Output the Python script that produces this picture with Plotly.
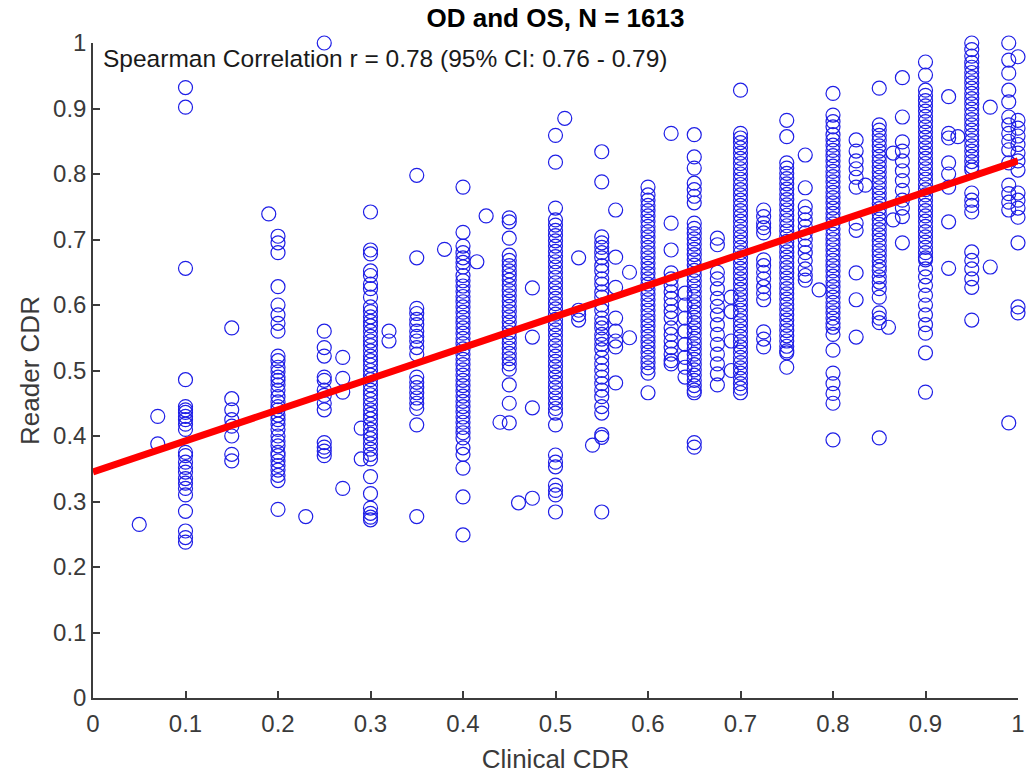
import plotly.graph_objects as go

# ---------------- data ----------------
reader_x005 = [0.265]
reader_x007 = [0.43, 0.388]
reader_x010 = [0.932, 0.902, 0.656, 0.486, 0.445, 0.44, 0.436, 0.43, 0.425, 0.418, 0.41,
               0.375, 0.37, 0.36, 0.352, 0.345, 0.335, 0.328, 0.32, 0.31, 0.285, 0.255, 0.245, 0.238]
reader_x015 = [0.565, 0.457, 0.44, 0.425, 0.415, 0.40, 0.372, 0.362]
reader_x019 = [0.739]
reader_x020 = [0.705, 0.695, 0.68, 0.628, 0.60, 0.585, 0.572, 0.56, 0.522, 0.515, 0.505, 0.498,
               0.49, 0.485, 0.478, 0.47, 0.46, 0.452, 0.445, 0.44, 0.432, 0.425, 0.418, 0.41,
               0.40, 0.392, 0.385, 0.375, 0.37, 0.362, 0.355, 0.348, 0.34, 0.332, 0.288]
reader_x023 = [0.277]
reader_x025 = [1.0, 0.56, 0.535, 0.522, 0.49, 0.485, 0.47, 0.462, 0.45, 0.44, 0.39, 0.383, 0.377, 0.37]
reader_x027 = [0.52, 0.488, 0.467, 0.32]
reader_x029 = [0.412, 0.365]
reader_x030 = [0.742, 0.684, 0.678, 0.652, 0.645, 0.632, 0.625, 0.612, 0.597, 0.59, 0.582, 0.575,
               0.568, 0.56, 0.552, 0.545, 0.538, 0.53, 0.522, 0.515, 0.508, 0.5, 0.493, 0.486,
               0.478, 0.47, 0.463, 0.456, 0.448, 0.44, 0.433, 0.426, 0.418, 0.41, 0.403, 0.396,
               0.388, 0.38, 0.372, 0.365, 0.338, 0.312, 0.29, 0.282, 0.276, 0.272]
reader_x032 = [0.56, 0.545]
reader_x035 = [0.798, 0.672, 0.595, 0.587, 0.578, 0.57, 0.56, 0.552, 0.545, 0.535, 0.525, 0.49,
               0.482, 0.474, 0.466, 0.458, 0.45, 0.442, 0.417, 0.277]
reader_x038 = [0.685]
reader_x040 = [0.78, 0.711, 0.69, 0.68, 0.672, 0.665, 0.658, 0.645, 0.637, 0.629, 0.621, 0.613,
               0.605, 0.597, 0.589, 0.581, 0.573, 0.565, 0.557, 0.549, 0.541, 0.533, 0.525, 0.517,
               0.509, 0.501, 0.493, 0.485, 0.477, 0.469, 0.461, 0.453, 0.445, 0.437, 0.429, 0.421,
               0.413, 0.405, 0.397, 0.382, 0.372, 0.351, 0.307, 0.249]
reader_x0415 = [0.666]
reader_x0425 = [0.736]
reader_x044 = [0.421]
reader_x045 = [0.733, 0.727, 0.702, 0.676, 0.668, 0.66, 0.652, 0.645, 0.638, 0.63, 0.622, 0.614,
               0.606, 0.598, 0.59, 0.582, 0.574, 0.566, 0.558, 0.55, 0.542, 0.534, 0.526, 0.518,
               0.51, 0.502, 0.478, 0.45, 0.42]
reader_x046 = [0.298]
reader_x0475 = [0.626, 0.551, 0.443, 0.305]
reader_x050 = [0.859, 0.818, 0.748, 0.73, 0.722, 0.714, 0.706, 0.698, 0.69, 0.682, 0.674, 0.666,
               0.658, 0.65, 0.642, 0.634, 0.626, 0.618, 0.61, 0.602, 0.594, 0.586, 0.578, 0.57,
               0.562, 0.554, 0.546, 0.538, 0.53, 0.522, 0.514, 0.506, 0.498, 0.49, 0.482, 0.474,
               0.466, 0.458, 0.45, 0.442, 0.435, 0.417, 0.371, 0.36, 0.353, 0.325, 0.317, 0.31, 0.284]
reader_x051 = [0.885]
reader_x0525 = [0.672, 0.592, 0.585, 0.577]
reader_x054 = [0.386]
reader_x055 = [0.834, 0.788, 0.704, 0.695, 0.688, 0.68, 0.672, 0.66, 0.652, 0.64, 0.632, 0.62,
               0.612, 0.6, 0.592, 0.58, 0.572, 0.565, 0.555, 0.548, 0.54, 0.532, 0.52, 0.51,
               0.5, 0.49, 0.48, 0.47, 0.46, 0.445, 0.435, 0.402, 0.398, 0.284]
reader_x0565 = [0.745, 0.673, 0.627, 0.58, 0.56, 0.545, 0.536, 0.481]
reader_x058 = [0.65, 0.55]
reader_x060 = [0.78, 0.768, 0.76, 0.752, 0.744, 0.736, 0.728, 0.72, 0.712, 0.704, 0.696, 0.688,
               0.68, 0.672, 0.664, 0.656, 0.648, 0.64, 0.632, 0.624, 0.616, 0.608, 0.6, 0.592,
               0.584, 0.576, 0.568, 0.56, 0.552, 0.544, 0.536, 0.528, 0.52, 0.512, 0.504, 0.496, 0.466]
reader_x0625 = [0.862, 0.725, 0.684, 0.649, 0.64, 0.63, 0.62, 0.61, 0.6, 0.59, 0.58, 0.565,
                0.555, 0.545, 0.535, 0.525, 0.515, 0.51]
reader_x064 = [0.618, 0.6, 0.58, 0.56, 0.54, 0.52, 0.505, 0.49]
reader_x065 = [0.86, 0.826, 0.809, 0.786, 0.776, 0.766, 0.756, 0.725, 0.717, 0.709, 0.701, 0.693,
               0.685, 0.677, 0.669, 0.661, 0.653, 0.645, 0.637, 0.629, 0.621, 0.613, 0.605, 0.597,
               0.589, 0.581, 0.573, 0.565, 0.557, 0.549, 0.541, 0.533, 0.525, 0.517, 0.509, 0.501,
               0.493, 0.485, 0.477, 0.47, 0.466, 0.39, 0.383]
reader_x0675 = [0.702, 0.692, 0.65, 0.64, 0.625, 0.61, 0.598, 0.585, 0.57, 0.555, 0.54, 0.525,
                0.51, 0.495, 0.478]
reader_x069 = [0.612, 0.59, 0.545, 0.5]
reader_x070 = [0.928, 0.862, 0.855, 0.848, 0.84, 0.832, 0.824, 0.816, 0.808, 0.8, 0.792, 0.784,
               0.776, 0.768, 0.76, 0.752, 0.744, 0.736, 0.728, 0.72, 0.712, 0.704, 0.696, 0.688,
               0.68, 0.672, 0.664, 0.656, 0.648, 0.64, 0.632, 0.624, 0.616, 0.608, 0.6, 0.592,
               0.584, 0.576, 0.568, 0.56, 0.552, 0.544, 0.536, 0.528, 0.52, 0.512, 0.504, 0.496,
               0.488, 0.48, 0.473, 0.466]
reader_x0725 = [0.745, 0.735, 0.725, 0.718, 0.71, 0.669, 0.66, 0.65, 0.64, 0.628, 0.618, 0.608,
                0.559, 0.548, 0.536]
reader_x075 = [0.882, 0.857, 0.817, 0.809, 0.801, 0.793, 0.785, 0.777, 0.769, 0.761, 0.753, 0.745,
               0.737, 0.729, 0.721, 0.713, 0.705, 0.697, 0.689, 0.681, 0.673, 0.665, 0.657, 0.649,
               0.641, 0.633, 0.625, 0.617, 0.609, 0.601, 0.593, 0.585, 0.577, 0.569, 0.561, 0.553,
               0.545, 0.537, 0.53, 0.527, 0.505]
reader_x077 = [0.829, 0.779, 0.75, 0.74, 0.73, 0.72, 0.71, 0.7, 0.69, 0.68, 0.668, 0.655, 0.645, 0.638]
reader_x0785 = [0.623]
reader_x080 = [0.923, 0.89, 0.88, 0.872, 0.86, 0.852, 0.844, 0.836, 0.828, 0.82, 0.812, 0.804,
               0.796, 0.788, 0.78, 0.772, 0.764, 0.756, 0.748, 0.74, 0.732, 0.724, 0.716, 0.708,
               0.7, 0.692, 0.684, 0.676, 0.668, 0.66, 0.652, 0.644, 0.636, 0.628, 0.62, 0.612,
               0.604, 0.596, 0.588, 0.58, 0.572, 0.566, 0.555, 0.531, 0.496, 0.48, 0.465, 0.45, 0.394]
reader_x0825 = [0.852, 0.835, 0.82, 0.808, 0.795, 0.78, 0.725, 0.714, 0.649, 0.608, 0.551]
reader_x0835 = [0.783]
reader_x085 = [0.931, 0.875, 0.867, 0.859, 0.851, 0.843, 0.835, 0.827, 0.819, 0.811, 0.803, 0.795,
               0.787, 0.779, 0.771, 0.763, 0.755, 0.747, 0.739, 0.731, 0.723, 0.715, 0.707, 0.699,
               0.691, 0.683, 0.675, 0.667, 0.659, 0.653, 0.643, 0.635, 0.625, 0.612, 0.588, 0.58,
               0.573, 0.397]
reader_x086 = [0.566]
reader_x0865 = [0.832, 0.73]
reader_x0875 = [0.947, 0.887, 0.849, 0.835, 0.82, 0.805, 0.79, 0.775, 0.76, 0.748, 0.735, 0.695]
reader_x090 = [0.971, 0.951, 0.928, 0.92, 0.912, 0.904, 0.896, 0.888, 0.88, 0.872, 0.864, 0.856,
               0.848, 0.84, 0.832, 0.824, 0.816, 0.808, 0.8, 0.792, 0.784, 0.776, 0.768, 0.76,
               0.752, 0.744, 0.736, 0.728, 0.72, 0.712, 0.704, 0.696, 0.688, 0.68, 0.672, 0.669,
               0.655, 0.643, 0.63, 0.615, 0.6, 0.585, 0.57, 0.557, 0.527, 0.467]
reader_x0925 = [0.918, 0.862, 0.855, 0.817, 0.8, 0.78, 0.727, 0.656]
reader_x0935 = [0.857]
reader_x095 = [1.0, 0.99, 0.98, 0.97, 0.963, 0.955, 0.947, 0.939, 0.931, 0.923, 0.915, 0.907,
               0.899, 0.891, 0.883, 0.875, 0.867, 0.859, 0.851, 0.843, 0.835, 0.827, 0.819, 0.811,
               0.806, 0.771, 0.76, 0.752, 0.742, 0.681, 0.668, 0.655, 0.64, 0.627, 0.577]
reader_x097 = [0.902, 0.658]
reader_x099 = [1.0, 0.974, 0.954, 0.928, 0.91, 0.887, 0.875, 0.862, 0.85, 0.837, 0.817, 0.783,
               0.77, 0.757, 0.745, 0.42]
reader_x100 = [0.979, 0.882, 0.87, 0.858, 0.845, 0.832, 0.82, 0.806, 0.771, 0.76, 0.748, 0.734,
               0.695, 0.597, 0.588]

clinical_levels = [0.05, 0.07, 0.10, 0.15, 0.19, 0.20, 0.23, 0.25, 0.27, 0.29, 0.30, 0.32, 0.35,
                   0.38, 0.40, 0.415, 0.425, 0.44, 0.45, 0.46, 0.475, 0.50, 0.51, 0.525, 0.54,
                   0.55, 0.565, 0.58, 0.60, 0.625, 0.64, 0.65, 0.675, 0.69, 0.70, 0.725, 0.75,
                   0.77, 0.785, 0.80, 0.825, 0.835, 0.85, 0.86, 0.865, 0.875, 0.90, 0.925, 0.935,
                   0.95, 0.97, 0.99, 1.00]
reader_groups = [reader_x005, reader_x007, reader_x010, reader_x015, reader_x019, reader_x020,
                 reader_x023, reader_x025, reader_x027, reader_x029, reader_x030, reader_x032,
                 reader_x035, reader_x038, reader_x040, reader_x0415, reader_x0425, reader_x044,
                 reader_x045, reader_x046, reader_x0475, reader_x050, reader_x051, reader_x0525,
                 reader_x054, reader_x055, reader_x0565, reader_x058, reader_x060, reader_x0625,
                 reader_x064, reader_x065, reader_x0675, reader_x069, reader_x070, reader_x0725,
                 reader_x075, reader_x077, reader_x0785, reader_x080, reader_x0825, reader_x0835,
                 reader_x085, reader_x086, reader_x0865, reader_x0875, reader_x090, reader_x0925,
                 reader_x0935, reader_x095, reader_x097, reader_x099, reader_x100]

fit_x = [0.0, 1.0]
fit_y = [0.345, 0.82]

tick_vals = [0, 0.1, 0.2, 0.3, 0.4, 0.5, 0.6, 0.7, 0.8, 0.9, 1]
tick_text = ["0", "0.1", "0.2", "0.3", "0.4", "0.5", "0.6", "0.7", "0.8", "0.9", "1"]

title_text = "OD and OS, N = 1613"
note_text = "Spearman Correlation r = 0.78 (95% CI: 0.76 - 0.79)"

# ---------------- build ----------------
xs, ys = [], []
for cx, grp in zip(clinical_levels, reader_groups):
    for v in grp:
        xs.append(cx)
        ys.append(v)

FONT = "Liberation Sans, Arial, Helvetica, sans-serif"
AXC = "#3c3c3c"
TXC = "#3a3a3a"

fig = go.Figure()
fig.add_trace(go.Scatter(
    x=xs, y=ys, mode="markers", cliponaxis=False, showlegend=False,
    marker=dict(symbol="circle-open", size=14, color="rgb(30,30,230)",
                line=dict(width=1.2, color="rgb(30,30,230)")),
))
fig.add_trace(go.Scatter(
    x=fit_x, y=fit_y, mode="lines", showlegend=False, cliponaxis=True,
    line=dict(color="rgb(255,0,0)", width=7),
))

axis_common = dict(
    range=[0, 1], tickvals=tick_vals, ticktext=tick_text, ticks="inside", ticklen=7,
    tickwidth=1.5, tickcolor=AXC, showline=True, linecolor=AXC, linewidth=1.5,
    showgrid=False, zeroline=False, mirror=False, ticklabeloverflow="allow",
    automargin=False,
    tickfont=dict(family=FONT, size=24, color=TXC),
)
fig.update_xaxes(**axis_common, ticklabelstandoff=3,
                 title=dict(text="Clinical CDR", font=dict(family=FONT, size=26, color=TXC),
                            standoff=14))
fig.update_yaxes(**axis_common,
                 title=dict(text="Reader CDR", font=dict(family=FONT, size=26, color=TXC),
                            standoff=6))

fig.update_layout(
    width=1026, height=776,
    margin=dict(l=93, r=8, t=43, b=78, autoexpand=False),
    paper_bgcolor="white", plot_bgcolor="white",
    title=dict(text=title_text, xref="paper", x=0.5, xanchor="center",
               yref="container", y=1 - 18 / 776, yanchor="middle",
               font=dict(family=FONT, size=26, color="#000000", weight="bold")),
    annotations=[dict(text=note_text, xref="paper", yref="paper", x=0.009, y=0.977,
                      xanchor="left", yanchor="middle", showarrow=False,
                      font=dict(family=FONT, size=24.5, color="#1a1a1a"))],
)

fig.write_html("out.html")
